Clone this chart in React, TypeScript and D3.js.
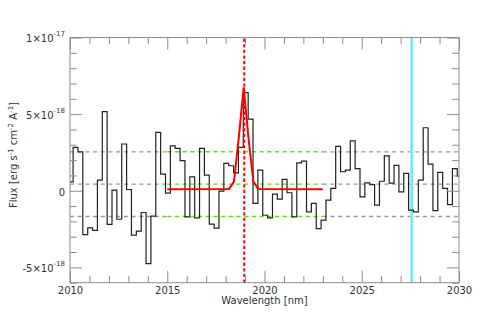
import { useRef, useEffect } from "react";
import * as d3 from "d3";

// flux per 0.25 nm bin, in units of 1e-18 erg s-1 cm-2 A-1
const flux = [
  0.58, 2.83, 2.54, -2.86, -2.42, -2.58, 0.69, 5.16, -2.2, 0.04,
  -1.86, 3.05, 0.08, -2.9, -2.64, -1.42, -4.75, -1.66, 3.81, 1.08,
  -0.16, 2.93, 2.76, 1.96, -1.7, 0.91, -1.77, 2.76, 1.02, -2.18,
  -2.44, -0.03, 1.78, 1.63, 1.17, 2.83, 6.4, 4.68, -0.83, 1.35,
  -1.6, -1.77, -0.22, -0.55, 0.74, -0.13, -1.7, 1.82, 1.93, -1.38,
  -0.83, -2.47, -1.92, -0.61, 0.15, 2.9, 1.24, 1.35, 3.26, 1.45,
  -0.4, 0.52, 0.4, -0.94, 0.62, 2.28, 0.5, 1.65, -0.07, 1.13,
  -1.27, -1.38, 0.69, 4.11, 1.74, -1.3, 1.2, 0.15, -0.9, 1.45,
  0.95,
];
const binWidth = 0.25;
const firstCenter = 2010.035;
const waveCenters = flux.map((_, i) => firstCenter + i * binWidth);

// gaussian fit, as drawn
const fitWave = [2015, 2018.18, 2018.43, 2018.68, 2018.93, 2019.18, 2019.43, 2019.68, 2023];
const fitFlux = [0.1, 0.12, 0.6, 3.5, 6.75, 3.4, 0.6, 0.12, 0.1];

// mean and +-1 sigma levels
const levels = [2.54, 0.43, -1.68];
const levelSpan = [2015, 2023];
const lineCenter = 2018.96;
const skyLine = 2027.57;

const xMajor = [2010, 2015, 2020, 2025, 2030];
const yMajor = [-5, 0, 5, 10];
const yTickMantissa = ["-5\u00d710", "0", "5\u00d710", "1\u00d710"];
const yTickExponent = ["-18", "", "-18", "-17"];

export default function App() {
  const ref = useRef<SVGSVGElement>(null);

  useEffect(() => {
    const W = 493;
    const H = 325;
    const m = { top: 37.5, right: 34, bottom: 42.3, left: 70 };
    const axisColor = "#8c8c8c";
    const textColor = "#333";
    const font = "DejaVu Sans, sans-serif";

    const svg = d3.select(ref.current);
    svg.selectAll("*").remove();

    const x = d3.scaleLinear().domain([2010, 2030]).range([m.left, W - m.right]);
    const y = d3.scaleLinear().domain([-6, 10]).range([H - m.bottom, m.top]);

    // level lines: gray outside the fit range, green inside
    levels.forEach((v) => {
      [
        [2010, levelSpan[0]],
        [levelSpan[1], 2030],
      ].forEach(([a, b]) =>
        svg
          .append("line")
          .attr("x1", x(a))
          .attr("x2", x(b))
          .attr("y1", y(v))
          .attr("y2", y(v))
          .attr("stroke", "#999")
          .attr("stroke-width", 1.3)
          .attr("stroke-dasharray", "4,3.7")
      );
      svg
        .append("line")
        .attr("x1", x(levelSpan[0]))
        .attr("x2", x(levelSpan[1]))
        .attr("y1", y(v))
        .attr("y2", y(v))
        .attr("stroke", "#4fe800")
        .attr("stroke-width", 1.4)
        .attr("stroke-dasharray", "4,3.7");
    });

    // sky line marker, light hatched cyan
    svg
      .append("line")
      .attr("x1", x(skyLine))
      .attr("x2", x(skyLine))
      .attr("y1", y(-6))
      .attr("y2", y(10))
      .attr("stroke", "#a8f4f8")
      .attr("stroke-width", 2.8);
    svg
      .append("line")
      .attr("x1", x(skyLine))
      .attr("x2", x(skyLine))
      .attr("y1", y(-6))
      .attr("y2", y(10))
      .attr("stroke", "#40e2ee")
      .attr("stroke-width", 2.8)
      .attr("stroke-dasharray", "1,1");

    let d = "";
    flux.forEach((v, i) => {
      const l = Math.max(2010, waveCenters[i] - binWidth / 2);
      const r = Math.min(2030, waveCenters[i] + binWidth / 2);
      d += (i === 0 ? `M${x(l)},${y(v)}` : `V${y(v)}`) + `H${x(r)}`;
    });
    svg
      .append("path")
      .attr("d", d)
      .attr("fill", "none")
      .attr("stroke", "#222")
      .attr("stroke-width", 1.2);

    const fitLine = d3
      .line<number>()
      .x((_, i) => x(fitWave[i]))
      .y((v) => y(v));
    svg
      .append("path")
      .attr("d", fitLine(fitFlux))
      .attr("fill", "none")
      .attr("stroke", "#f00")
      .attr("stroke-width", 2);

    svg
      .append("line")
      .attr("x1", x(lineCenter))
      .attr("x2", x(lineCenter))
      .attr("y1", y(-6))
      .attr("y2", y(10))
      .attr("stroke", "#f00")
      .attr("stroke-width", 2)
      .attr("stroke-dasharray", "3.3,2.3");

    // frame
    svg
      .append("rect")
      .attr("x", m.left)
      .attr("y", m.top)
      .attr("width", W - m.left - m.right)
      .attr("height", H - m.top - m.bottom)
      .attr("fill", "none")
      .attr("stroke", axisColor);

    const style = (g) => {
      g.select(".domain").remove();
      g.selectAll(".tick line").attr("stroke", axisColor);
      g.attr("font-family", font).attr("font-size", 10);
      g.selectAll(".tick text").attr("fill", textColor);
    };
    const xMinor = d3.range(2010, 2031).filter((v) => !xMajor.includes(v));
    const yMinor = d3.range(-6, 11).filter((v) => !yMajor.includes(v));
    const none = () => "";

    svg
      .append("g")
      .attr("transform", `translate(0,${y(-6)})`)
      .call(d3.axisBottom(x).tickValues(xMajor).tickSize(-12).tickPadding(4).tickFormat(d3.format("d")))
      .call(style);
    svg
      .append("g")
      .attr("transform", `translate(0,${y(-6)})`)
      .call(d3.axisBottom(x).tickValues(xMinor).tickSize(-6.7).tickFormat(none))
      .call(style);
    svg
      .append("g")
      .attr("transform", `translate(0,${y(10)})`)
      .call(d3.axisTop(x).tickValues(xMajor).tickSize(-12).tickFormat(none))
      .call(style);
    svg
      .append("g")
      .attr("transform", `translate(0,${y(10)})`)
      .call(d3.axisTop(x).tickValues(xMinor).tickSize(-6.7).tickFormat(none))
      .call(style);
    svg
      .append("g")
      .attr("transform", `translate(${m.left},0)`)
      .call(d3.axisLeft(y).tickValues(yMajor).tickSize(-12).tickFormat(none))
      .call(style);
    svg
      .append("g")
      .attr("transform", `translate(${m.left},0)`)
      .call(d3.axisLeft(y).tickValues(yMinor).tickSize(-6.7).tickFormat(none))
      .call(style);
    svg
      .append("g")
      .attr("transform", `translate(${W - m.right},0)`)
      .call(d3.axisRight(y).tickValues(yMajor).tickSize(-12).tickFormat(none))
      .call(style);
    svg
      .append("g")
      .attr("transform", `translate(${W - m.right},0)`)
      .call(d3.axisRight(y).tickValues(yMinor).tickSize(-6.7).tickFormat(none))
      .call(style);

    // y tick labels with exponents
    yMajor.forEach((v, i) => {
      const t = svg
        .append("text")
        .attr("x", m.left - 5)
        .attr("y", y(v) + 4.8)
        .attr("text-anchor", "end")
        .attr("font-family", font)
        .attr("font-size", 10)
        .attr("fill", textColor);
      t.append("tspan").text(yTickMantissa[i]);
      if (yTickExponent[i]) t.append("tspan").attr("dy", -6).attr("font-size", 7).text(yTickExponent[i]);
    });

    svg
      .append("text")
      .attr("x", (m.left + W - m.right) / 2)
      .attr("y", 304)
      .attr("text-anchor", "middle")
      .attr("font-family", font)
      .attr("font-size", 10)
      .attr("fill", textColor)
      .text("Wavelength [nm]");

    const yl = svg
      .append("text")
      .attr("transform", "translate(16.5,155) rotate(-90)")
      .attr("text-anchor", "middle")
      .attr("font-family", font)
      .attr("font-size", 10)
      .attr("fill", textColor);
    const parts = [
      ["Flux [erg s", "-1"],
      [" cm", "-2"],
      [" A", "-1"],
      ["]", ""],
    ];
    parts.forEach(([base, sup], i) => {
      yl.append("tspan").attr("dy", i === 0 ? 0 : 4).text(base);
      if (sup) yl.append("tspan").attr("dy", -4).attr("font-size", 7).text(sup);
    });
  }, []);

  return (
    <svg
      ref={ref}
      width={493}
      height={325}
      style={{ position: "absolute", left: 0, top: 0, background: "#fff" }}
    />
  );
}
